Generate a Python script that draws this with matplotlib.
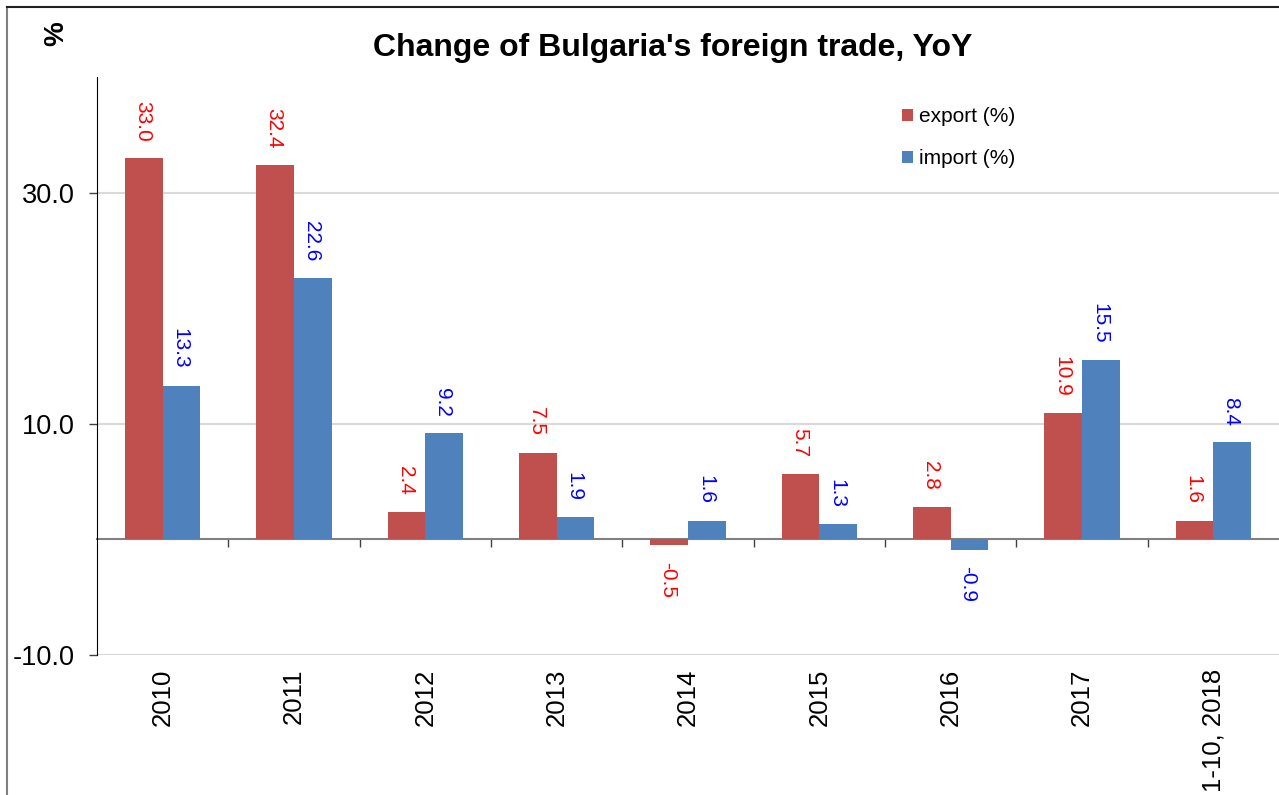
import matplotlib
matplotlib.use('Agg')
import matplotlib.pyplot as plt
import numpy as np
from matplotlib.lines import Line2D

plt.rcParams['font.family'] = ['Liberation Sans', 'DejaVu Sans']

# Data
categories = ['2010', '2011', '2012', '2013', '2014', '2015', '2016', '2017', '1-10, 2018']
export_pct = [33.0, 32.4, 2.4, 7.5, -0.5, 5.7, 2.8, 10.9, 1.6]
import_pct = [13.3, 22.6, 9.2, 1.9, 1.6, 1.3, -0.9, 15.5, 8.4]

EXPORT_COLOR = '#C0504D'
IMPORT_COLOR = '#4F81BD'

fig = plt.figure(figsize=(12.79, 7.95), dpi=100)
ax = fig.add_axes([97 / 1279, 1 - 655 / 795, 1 - 97 / 1279, (655 - 77) / 795])

x = np.arange(len(categories))
w = 0.286
b_exp = ax.bar(x - w / 2, export_pct, w, color=EXPORT_COLOR, label='export (%)', zorder=3)
b_imp = ax.bar(x + w / 2, import_pct, w, color=IMPORT_COLOR, label='import (%)', zorder=3)

# value labels, rotated
for bars, vals, col in [(b_exp, export_pct, 'red'), (b_imp, import_pct, 'blue')]:
    for rect, v in zip(bars, vals):
        cx = rect.get_x() + rect.get_width() / 2
        off = 12 if v >= 0 else -12
        ax.annotate(f'{v:.1f}', (cx, v), xytext=(-1, off), textcoords='offset points',
                    rotation=-90, ha='center', va='bottom' if v >= 0 else 'top',
                    color=col, fontsize=15)

ax.set_xlim(-0.5, len(categories) - 0.5)
ax.set_ylim(-10, 40)
ax.set_yticks([-10, 10, 30])
ax.set_yticklabels([f'{t:.1f}' for t in [-10, 10, 30]], fontsize=19.5)
ax.tick_params(axis='y', length=6, width=1, pad=10, color='#404040')
ax.yaxis.grid(True, color='#D9D9D9', linewidth=1.5, zorder=0)
ax.set_axisbelow(True)

ax.set_xticks(x)
ax.set_xticklabels(categories, rotation=90, fontsize=18.5, va='top', ha='center')
ax.tick_params(axis='x', length=0, pad=10)

for s in ['top', 'right', 'bottom']:
    ax.spines[s].set_visible(False)
ax.spines['left'].set_color('black')

# zero axis with category separators
sec = ax.secondary_xaxis(0.2)
sec.set_xticks(x[:-1] + 0.5)
sec.set_xticklabels([])
sec.tick_params(axis='x', length=6, width=1, direction='out', color='#404040')
sec.spines['bottom'].set_color('#808080')
sec.spines['bottom'].set_linewidth(1.5)

ax.legend(loc='upper left', bbox_to_anchor=(0.665, 0.98), frameon=False, fontsize=15,
          handlelength=0.55, handleheight=0.55, handletextpad=0.3, labelspacing=1.1)

fig.text(0.526, 1 - 48 / 795, "Change of Bulgaria's foreign trade, YoY", ha='center', va='center',
         fontsize=23, fontweight='bold')
fig.text(56 / 1279, 1 - 34 / 795, '%', rotation=90, ha='center', va='center',
         fontsize=20, fontweight='bold')

# outer frame
fig.add_artist(Line2D([7 / 1279, 7 / 1279], [0, 1 - 7 / 795], color='#808080', linewidth=1.5))
fig.add_artist(Line2D([7 / 1279, 1], [1 - 7 / 795, 1 - 7 / 795], color='#202020', linewidth=1.5))

fig.savefig('out.png', dpi=100)
